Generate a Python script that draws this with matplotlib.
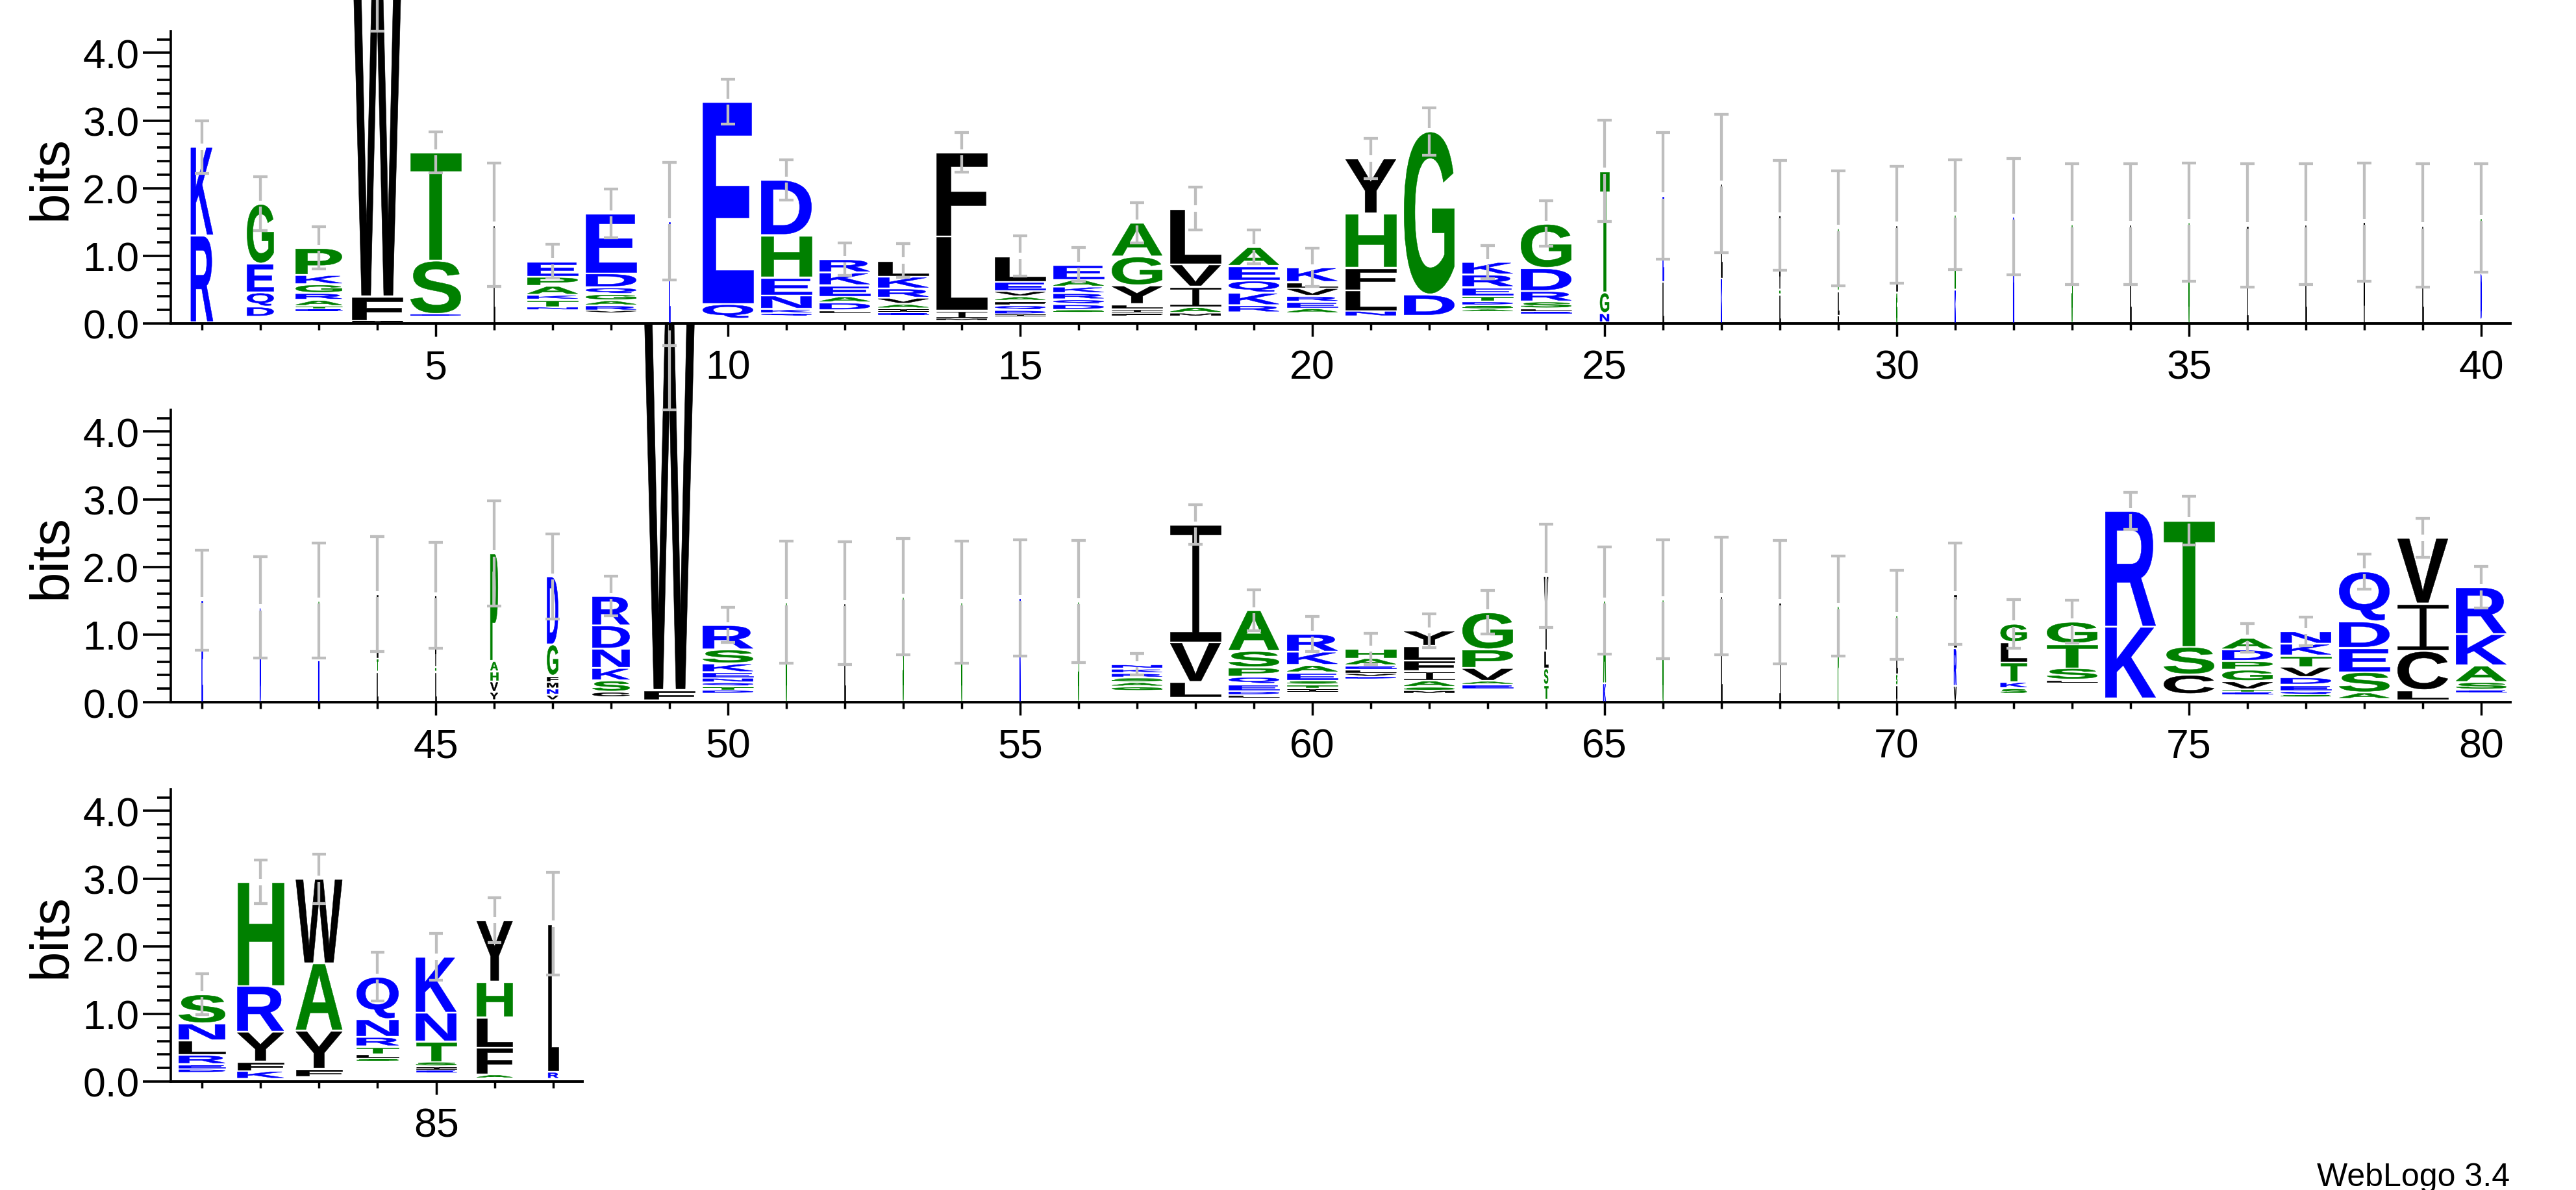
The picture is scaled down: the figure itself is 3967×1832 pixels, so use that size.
import matplotlib
matplotlib.use("Agg")
import matplotlib.pyplot as plt
from matplotlib.textpath import TextPath
from matplotlib.patches import PathPatch
from matplotlib.path import Path
from matplotlib.font_manager import FontProperties
from matplotlib.transforms import Affine2D, Bbox
from matplotlib.ticker import FixedLocator, MultipleLocator

plt.rcParams['font.family'] = ['Liberation Sans', 'DejaVu Sans']

# DATA: stacks listed bottom -> top as (letter, bits); base = blank space of tiny letters
ROW1_POS = list(range(1, 41))
ROW1_STACKS = [
    [("R", 1.28), ("K", 1.31)],
    [("D", .15), ("Q", .21), ("E", .425), ("G", .885)],
    [("E", .04), ("T", .04), ("A", .09), ("R", .10), ("G", .13), ("K", .137), ("P", .40)],
    [("I", .02), ("F", .36), ("W", 5.36)],
    [("D", .03), ("S", .79), ("T", 1.60)],
    [("L", 1.46)],
    [("N", .047), ("T", .106), ("K", .072), ("A", .131), ("P", .134), ("E", .23)],
    [("V", .034), ("R", .076), ("A", .075), ("G", .093), ("Q", .099), ("D", .209), ("E", .886)],
    [("E", 1.51)],
    [("Q", .218), ("E", 2.988)],
    [("Q", .038), ("K", .065), ("N", .199), ("E", .268), ("H", .624), ("D", .817)],
    [("L", .048), ("D", .116), ("A", .089), ("E", .165), ("K", .189), ("R", .195)],
    [("E", .048), ("I", .055), ("A", .069), ("V", .089), ("R", .137), ("K", .175), ("L", .237)],
    [("M", .027), ("I", .117), ("L", 1.098), ("F", 1.24)],
    [("I", .024), ("D", .062), ("Q", .072), ("F", .065), ("A", .065), ("V", .079), ("E", .141), ("L", .379)],
    [("S", .037), ("D", .083), ("Q", .072), ("R", .092), ("K", .096), ("A", .103), ("E", .222)],
    [("F", .041), ("I", .062), ("L", .072), ("Y", .275), ("G", .428), ("A", .499)],
    [("M", .052), ("A", .086), ("I", .301), ("V", .33), ("L", .825)],
    [("R", .106), ("K", .185), ("Q", .179), ("E", .216), ("A", .279)],
    [("A", .072), ("E", .096), ("R", .086), ("V", .117), ("L", .089), ("K", .216)],
    [("N", .083), ("L", .305), ("F", .333), ("H", .799), ("Y", .814)],
    [("D", .316), ("G", 2.411)],
    [("A", .038), ("S", .058), ("D", .055), ("T", .082), ("E", .131), ("R", .185), ("K", .186)],
    [("E", .034), ("L", .041), ("S", .103), ("R", .154), ("D", .34), ("G", .655)],
    [("N", .137), ("G", .306), ("T", 1.797)],
    [("L", .62), ("E", 1.27)],
    [("K", .67), ("L", 1.40)],
    [("L", .43), ("G", .07), ("V", 1.10)],
    [("V", .12), ("L", .36), ("S", .93)],
    [("G", .46), ("L", 1.0)],
    [("K", .5), ("A", 1.11)],
    [("R", 1.58)],
    [("S", 1.47)],
    [("L", 1.47)],
    [("G", 1.50)],
    [("I", 1.45)],
    [("L", 1.47)],
    [("V", 1.50)],
    [("L", 1.45)],
    [("D", .68), ("S", .82)],
]
ROW1_BASE = [.02, .10, .18, .02, .11, 0, .2, .158, 0, .07,
             .113, .148, .12, .048, .113, .165, .113, .106, .165, .154,
             .106, .113, .175, .148, .017, 0, 0, 0, 0, 0,
             0, 0, 0, 0, 0, 0, 0, 0, 0, .06]
ROW1_ERR = [.39, .40, .31, .49, .30, .91, .25, .36, .87, .33,
            .30, .24, .25, .29, .30, .25, .30, .32, .25, .28,
            .30, .35, .245, .335, .75, .935, 1.02, .81, .85, .86,
            .81, .86, .89, .89, .875, .91, .89, .875, .91, .80]
ROW1_WIDTH = [.44, .53, .92, 1, 1, .02, 1, 1, .02, 1,
              1, 1, 1, 1, 1, 1, 1, 1, 1, 1,
              1, 1, 1, 1, .18] + [.02] * 15

ROW2_POS = list(range(41, 81))
ROW2_STACKS = [
    [("E", 1.51)],
    [("D", 1.40)],
    [("N", .62), ("G", .88)],
    [("L", .45), ("T", .2), ("I", .95)],
    [("L", .45), ("G", .07), ("V", 1.06)],
    [("Y", .122), ("V", .155), ("H", .148), ("A", .155), ("P", 1.59)],
    [("V", .081), ("N", .092), ("M", .097), ("F", .092), ("G", .462), ("D", 1.006)],
    [("C", .081), ("S", .167), ("K", .184), ("N", .285), ("D", .344), ("R", .436)],
    [("F", .151), ("W", 5.58)],
    [("D", .052), ("T", .056), ("Q", .055), ("N", .07), ("E", .082), ("K", .129), ("S", .207), ("R", .36)],
    [("G", 1.48)],
    [("L", 1.465)],
    [("S", 1.56)],
    [("G", 1.48)],
    [("K", 1.54)],
    [("S", 1.49)],
    [("G", .066), ("A", .066), ("S", .066), ("R", .066), ("K", .066), ("N", .066)],
    [("L", .233), ("V", .587), ("I", 1.738)],
    [("L", .04), ("D", .059), ("E", .104), ("Q", .107), ("P", .137), ("S", .244), ("A", .602)],
    [("I", .051), ("T", .059), ("S", .06), ("E", .118), ("A", .111), ("K", .196), ("R", .263)],
    [("D", .037), ("V", .044), ("L", .059), ("E", .063), ("A", .104), ("H", .14)],
    [("M", .045), ("S", .052), ("A", .096), ("I", .14), ("F", .155), ("L", .215), ("Y", .228)],
    [("E", .066), ("A", .052), ("V", .192), ("P", .274), ("G", .55)],
    [("T", .222), ("S", .241), ("L", .265), ("Y", 1.102)],
    [("K", .28), ("A", 1.22)],
    [("G", 1.52)],
    [("L", 1.57)],
    [("I", 1.48)],
    [("P", 1.42)],
    [("V", .25), ("S", .17), ("L", .5), ("G", .37)],
    [("V", .24), ("R", .56), ("I", .80)],
    [("S", .085), ("K", .093), ("T", .292), ("L", .295), ("G", .273)],
    [("L", .052), ("S", .173), ("T", .359), ("G", .325)],
    [("K", 1.061), ("R", 1.712)],
    [("C", .289), ("S", .414), ("T", 1.867)],
    [("E", .044), ("T", .034), ("V", .122), ("G", .17), ("P", .129), ("D", .17), ("A", .17)],
    [("S", .033), ("Q", .052), ("E", .096), ("D", .111), ("V", .155), ("T", .166), ("K", .174), ("N", .185)],
    [("A", .096), ("S", .303), ("E", .355), ("D", .392), ("Q", .739)],
    [("L", .147), ("C", .581), ("I", .702), ("V", .969)],
    [("E", .045), ("S", .114), ("A", .244), ("K", .463), ("R", .694)],
]
ROW2_BASE = [0, 0, 0, 0, 0, .03, .03, .074, .03, .129,
             0, 0, 0, 0, 0, 0, .166, .067, .067, .152,
             .344, .129, .196, .037, 0, 0, 0, 0, 0, 0,
             0, .122, .281, .055, .118, .111, .078, .048, .03, .14]
ROW2_ERR = [.74, .75, .85, .85, .78, .78, .63, .29, .49, .26,
            .90, .91, .86, .90, .86, .90, .16, .29, .30, .26,
            .23, .25, .32, .76, .79, .88, .87, .91, .74, .66,
            .75, .36, .32, .27, .36, .21, .21, .26, .29, .31]
ROW2_WIDTH = [.02, .02, .02, .02, .02, .15, .22, .74, 1, 1,
              .02, .02, .02, .02, .02, .02, 1, 1, 1, 1,
              1, 1, 1, .08, .05, .02, .02, .02, .02, .02,
              .05, .52, 1, 1, 1, 1, 1, 1, 1, 1]

ROW3_POS = list(range(81, 88))
ROW3_STACKS = [
    [("D", .059), ("E", .07), ("R", .136), ("L", .214), ("N", .251), ("S", .431)],
    [("K", .119), ("F", .136), ("Y", .442), ("R", .679), ("H", 1.533)],
    [("F", .122), ("Y", .564), ("A", .995), ("W", 1.25)],
    [("S", .044), ("L", .063), ("T", .114), ("R", .14), ("N", .262), ("Q", .628)],
    [("E", .037), ("I", .052), ("S", .07), ("T", .295), ("N", .428), ("K", .825)],
    [("A", .059), ("F", .398), ("L", .446), ("H", .527), ("Y", .907)],
    [("R", .104), ("L", 2.19)],
]
ROW3_BASE = [.129, .04, .066, .299, .136, .048, .04]
ROW3_ERR = [.30, .32, .365, .36, .35, .33, .76]
ROW3_WIDTH = [.92, .92, .92, .83, .80, .71, .2]

# hydrophobicity colour scheme
COLOR = {}
for c in "RKDENQ":
    COLOR[c] = "#0000ff"
for c in "SGHTAP":
    COLOR[c] = "#008000"
for c in "YVMCLFIW":
    COLOR[c] = "#000000"

W_PX, H_PX = 3967, 1833
YMAX = 4.32
FULL_W = 0.86
GRAY = "#bebebe"

FP = FontProperties(family="Liberation Sans", weight="bold")
_glyphs = {}


def serif_i():
    # weblogo draws I with serifs so it is not confused with a bar
    b, s = 0.08, 0.065
    v = [(0, 0), (1, 0), (1, b), (.5 + s, b), (.5 + s, 1 - b), (1, 1 - b), (1, 1),
         (0, 1), (0, 1 - b), (.5 - s, 1 - b), (.5 - s, b), (0, b), (0, 0)]
    codes = [Path.MOVETO] + [Path.LINETO] * 11 + [Path.CLOSEPOLY]
    return Path(v, codes)


def glyph(ch):
    if ch not in _glyphs:
        if ch == "I":
            p = serif_i()
            _glyphs[ch] = (p, Bbox([[0, 0], [1, 1]]))
        else:
            p = TextPath((0, 0), ch, size=1, prop=FP)
            _glyphs[ch] = (p, p.get_extents())
    return _glyphs[ch]


def draw_letter(ax, ch, x, y, w, h):
    p, bb = glyph(ch)
    t = (Affine2D().translate(-bb.x0, -bb.y0)
         .scale(w / bb.width, h / bb.height)
         .translate(x - w / 2, y))
    ax.add_patch(PathPatch(t.transform_path(p), fc=COLOR[ch], ec=COLOR[ch],
                           lw=0.4, clip_on=False, zorder=3))


def errbar(ax, x, lo, hi, top):
    kw = dict(color=GRAY, lw=3.1, solid_capstyle='butt', clip_on=False, zorder=5)
    gap = 0.045
    cap = 0.117
    ax.plot([x, x], [lo, top - gap], **kw)
    ax.plot([x, x], [top + gap, hi], **kw)
    ax.plot([x - cap, x + cap], [lo, lo], **kw)
    ax.plot([x - cap, x + cap], [hi, hi], **kw)
    if lo > YMAX:
        ax.plot([x, x], [YMAX, lo], **kw)
        ax.plot([x - cap, x + cap], [YMAX, YMAX], **kw)


def draw_row(ax, pos, stacks, base, err, width):
    for p, st, b0, e, wf in zip(pos, stacks, base, err, width):
        w = FULL_W * wf
        y = b0
        for ch, h in st:
            pad = min(0.016, 0.25 * h)
            draw_letter(ax, ch, p, y + pad, w, h - 2 * pad)
            y += h
        errbar(ax, p, y - e, y + e, y)


def setup_axis(ax, pos, width_px):
    ax.set_xlim(pos[0] - 0.533, pos[-1] + 0.5)
    ax.set_ylim(0, YMAX)
    ax.spines['top'].set_visible(False)
    ax.spines['right'].set_visible(False)
    ax.spines['left'].set_linewidth(2.6)
    ax.spines['bottom'].set_linewidth(2.8)
    ax.xaxis.set_major_locator(FixedLocator([p for p in pos if p % 5 == 0]))
    ax.xaxis.set_minor_locator(FixedLocator(pos))
    ax.yaxis.set_major_locator(FixedLocator([0, 1, 2, 3, 4]))
    ax.yaxis.set_minor_locator(MultipleLocator(0.2))
    ax.set_yticklabels(['0.0', '1.0', '2.0', '3.0', '4.0'])
    ax.tick_params(axis='y', which='major', direction='out', length=31, width=2.6, pad=4, labelsize=45)
    ax.tick_params(axis='y', which='minor', direction='out', length=15, width=2.6)
    ax.tick_params(axis='x', which='major', direction='out', length=14.4, width=2.5, pad=13, labelsize=45)
    ax.tick_params(axis='x', which='minor', direction='out', length=7.2, width=2.5)
    ax.set_ylabel('bits', fontsize=60, va='baseline')
    ax.yaxis.set_label_coords((102 - 263) / width_px, 0.5)


fig = plt.figure(figsize=(W_PX / 100, H_PX / 100), dpi=100)

rows = [
    (499, 3866, ROW1_POS, ROW1_STACKS, ROW1_BASE, ROW1_ERR, ROW1_WIDTH, 3),
    (1082, 3866, ROW2_POS, ROW2_STACKS, ROW2_BASE, ROW2_ERR, ROW2_WIDTH, 2),
    (1666, 897, ROW3_POS, ROW3_STACKS, ROW3_BASE, ROW3_ERR, ROW3_WIDTH, 1),
]
for zero_y, right_x, pos, stacks, base, err, width, z in rows:
    left_x = 263
    ax = fig.add_axes([left_x / W_PX, (H_PX - zero_y) / H_PX,
                       (right_x - left_x) / W_PX, 450 / H_PX])
    ax.set_zorder(z)
    setup_axis(ax, pos, right_x - left_x)
    draw_row(ax, pos, stacks, base, err, width)

fig.text(3865 / W_PX, (H_PX - 1826) / H_PX, "WebLogo 3.4", ha='right', va='baseline', fontsize=36)

fig.savefig("out.png", dpi=100)
